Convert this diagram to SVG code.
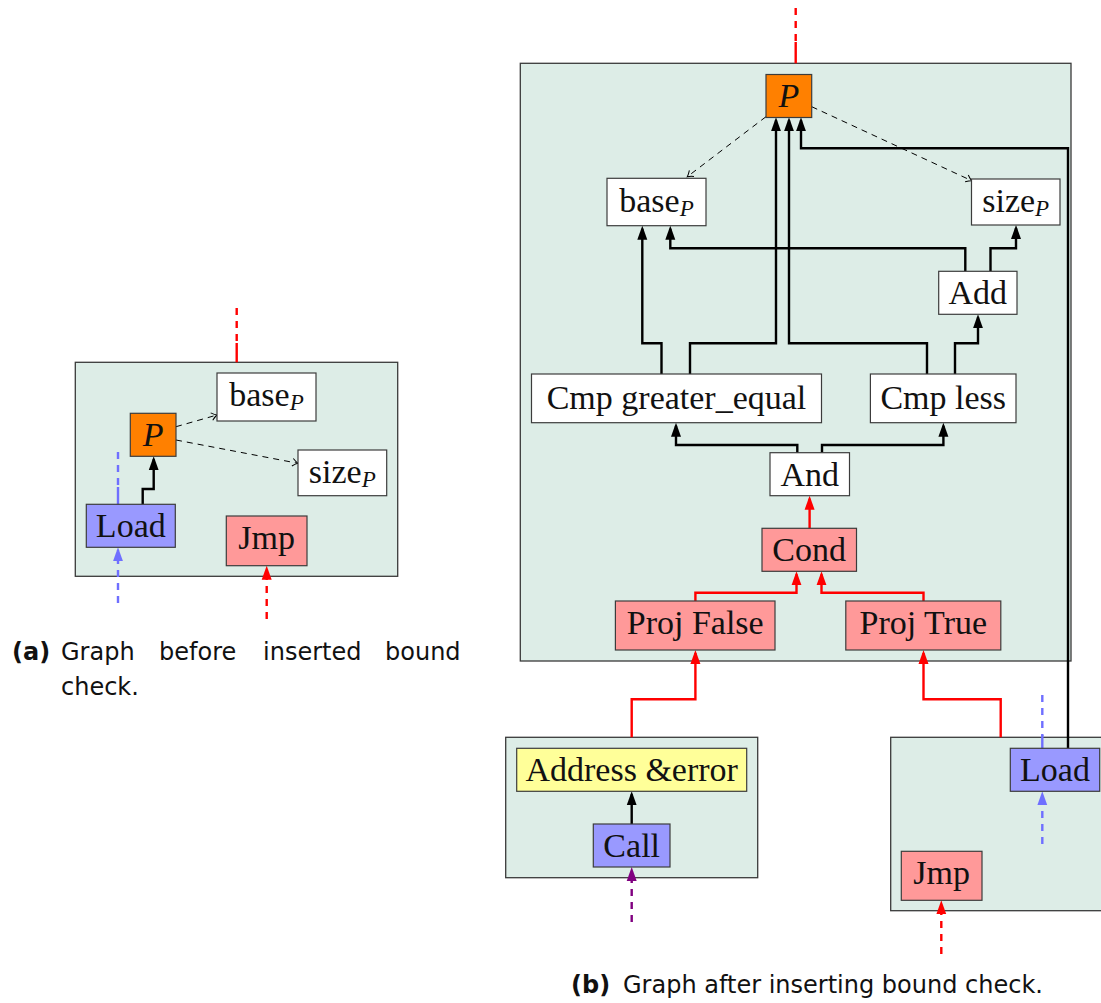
<svg xmlns="http://www.w3.org/2000/svg" width="1101" height="1003" viewBox="0 0 1101 1003">
  <style>
    .blk { fill: #ddede7; stroke: #3a3a3a; stroke-width: 1.3; }
    .nd { stroke: #3c3c3c; stroke-width: 1.2; }
    .w { fill: #ffffff; }
    .org { fill: #ff8000; }
    .blu { fill: #9999ff; }
    .red { fill: #ff9999; }
    .yel { fill: #ffff99; }
    .lbl { font-family: "Liberation Serif", "DejaVu Serif", serif; font-size: 34px; fill: #111; text-anchor: middle; }
    .sub { font-style: italic; font-size: 23px; }
    .it { font-style: italic; }
    .e { fill: none; stroke: #000; stroke-width: 2.4; stroke-linejoin: miter; }
    .er { fill: none; stroke: #ff0000; stroke-width: 2.4; }
    .eb { fill: none; stroke: #6f6fff; stroke-width: 2.4; }
    .ep { fill: none; stroke: #800080; stroke-width: 2.4; }
    .dash { stroke-dasharray: 7 6; }
    .thin { fill: none; stroke: #000; stroke-width: 1; stroke-dasharray: 6 5; }
    .cap { font-family: "DejaVu Sans", "Liberation Sans", sans-serif; font-size: 24px; fill: #111; }
    .capb { font-weight: bold; }
  </style>
  <defs>
    <!-- filled arrow tips; the tip sits 3 units past the path end -->
    <marker id="ah-k" viewBox="0 0 14 11" refX="11" refY="5.5" markerWidth="14" markerHeight="11" markerUnits="userSpaceOnUse" orient="auto">
      <path d="M0,0.5 L14,5.5 L0,10.5 z" fill="#000"/>
    </marker>
    <marker id="ah-r" viewBox="0 0 14 11" refX="11" refY="5.5" markerWidth="14" markerHeight="11" markerUnits="userSpaceOnUse" orient="auto">
      <path d="M0,0.5 L14,5.5 L0,10.5 z" fill="#ff0000"/>
    </marker>
    <marker id="ah-b" viewBox="0 0 14 11" refX="11" refY="5.5" markerWidth="14" markerHeight="11" markerUnits="userSpaceOnUse" orient="auto">
      <path d="M0,0.5 L14,5.5 L0,10.5 z" fill="#6f6fff"/>
    </marker>
    <marker id="ah-p" viewBox="0 0 14 11" refX="11" refY="5.5" markerWidth="14" markerHeight="11" markerUnits="userSpaceOnUse" orient="auto">
      <path d="M0,0.5 L14,5.5 L0,10.5 z" fill="#800080"/>
    </marker>
    <marker id="ah-open" viewBox="-7 -5 9 10" refX="0" refY="0" markerWidth="9" markerHeight="10" markerUnits="userSpaceOnUse" orient="auto">
      <path d="M-5.5,-3.8 Q-2,-0.8 0,0 Q-2,0.8 -5.5,3.8" fill="none" stroke="#000" stroke-width="1"/>
    </marker>
  </defs>

  <rect width="1101" height="1003" fill="#ffffff"/>

  <!-- basic blocks -->
  <g id="blocks">
    <g id="block-a"><rect class="blk" x="75.3" y="362.3" width="322.4" height="214"/></g>
    <g id="block-b-main"><rect class="blk" x="520.3" y="63.3" width="550.7" height="597.7"/></g>
    <g id="block-b-error"><rect class="blk" x="505.7" y="737.3" width="252" height="140.4"/></g>
    <g id="block-b-cont"><rect class="blk" x="890.7" y="737.3" width="220" height="173.4"/></g>
  </g>

  <!-- connectors -->
  <g id="connectors">
    <!-- graph (a) -->
    <path class="er dash" d="M236.7,308 V344"/>
    <path class="er" d="M236.7,343 V362.3"/>
    <path class="eb dash" d="M118,452 V488"/>
    <path class="eb" d="M118,487 V504.3"/>
    <path class="e" d="M142.7,504.3 V489 H153.7 V459.3" marker-end="url(#ah-k)"/>
    <path class="thin" d="M176,426.7 L217,415" marker-end="url(#ah-open)"/>
    <path class="thin" d="M176,440 L298,463.3" marker-end="url(#ah-open)"/>
    <path class="eb dash" d="M118,603 V550.3" marker-end="url(#ah-b)"/>
    <path class="er dash" d="M266.7,619 V568.7" marker-end="url(#ah-r)"/>

    <!-- graph (b) -->
    <path class="er dash" d="M795.7,8 V43"/>
    <path class="er" d="M795.7,42 V63.3"/>
    <path class="thin" d="M766,116.7 L687.3,176.7" marker-end="url(#ah-open)"/>
    <path class="thin" d="M811.7,106.7 L971.7,180.7" marker-end="url(#ah-open)"/>
    <path class="e" d="M661.5,374 V343.3 H642.3 V228.7" marker-end="url(#ah-k)"/>
    <path class="e" d="M690,374 V343.3 H776 V120.3" marker-end="url(#ah-k)"/>
    <path class="e" d="M927,374 V343.3 H789 V120.3" marker-end="url(#ah-k)"/>
    <path class="e" d="M1068,748.3 V148.3 H801 V120.3" marker-end="url(#ah-k)"/>
    <path class="e" d="M965.3,271.3 V248.3 H670.3 V228.7" marker-end="url(#ah-k)"/>
    <path class="e" d="M990.5,271.3 V248.3 H1016 V228" marker-end="url(#ah-k)"/>
    <path class="e" d="M955,374 V343.3 H978 V317.3" marker-end="url(#ah-k)"/>
    <path class="e" d="M797.3,452.7 V445 H676 V425.7" marker-end="url(#ah-k)"/>
    <path class="e" d="M822,452.7 V445 H943.4 V425.7" marker-end="url(#ah-k)"/>
    <path class="er" d="M809.6,528.3 V498.7" marker-end="url(#ah-r)"/>
    <path class="er" d="M695.4,601 V592.7 H796.5 V574.3" marker-end="url(#ah-r)"/>
    <path class="er" d="M923.5,601 V592.7 H821.5 V574.3" marker-end="url(#ah-r)"/>
    <path class="er" d="M631.7,737.3 V699.3 H695.4 V653" marker-end="url(#ah-r)"/>
    <path class="er" d="M1000.7,737.3 V699.3 H923.5 V653" marker-end="url(#ah-r)"/>
    <path class="e" d="M631.7,824 V794.3" marker-end="url(#ah-k)"/>
    <path class="ep dash" d="M631.7,922 V870" marker-end="url(#ah-p)"/>
    <path class="eb dash" d="M1042.3,695 V736"/>
    <path class="eb" d="M1042.3,735 V748.3"/>
    <path class="eb dash" d="M1042.3,844 V794.3" marker-end="url(#ah-b)"/>
    <path class="er dash" d="M941.3,954 V903.3" marker-end="url(#ah-r)"/>
  </g>

  <!-- nodes of graph (a) -->
  <g id="a-base">
    <rect class="nd w" x="217" y="373" width="99" height="48"/>
    <text class="lbl" x="266.5" y="406">base<tspan class="sub" dy="4">P</tspan></text>
  </g>
  <g id="a-p">
    <rect class="nd org" x="130.3" y="413.3" width="45.7" height="43"/>
    <text class="lbl it" x="153.2" y="446">P</text>
  </g>
  <g id="a-size">
    <rect class="nd w" x="298" y="450" width="88.7" height="45.7"/>
    <text class="lbl" x="342.3" y="483">size<tspan class="sub" dy="4">P</tspan></text>
  </g>
  <g id="a-load">
    <rect class="nd blu" x="86.3" y="504.3" width="89" height="43"/>
    <text class="lbl" x="130.8" y="537">Load</text>
  </g>
  <g id="a-jmp">
    <rect class="nd red" x="226.3" y="516" width="80.7" height="49.7"/>
    <text class="lbl" x="266.7" y="549">Jmp</text>
  </g>

  <!-- nodes of graph (b) -->
  <g id="b-p">
    <rect class="nd org" x="766" y="74.5" width="45.7" height="43"/>
    <text class="lbl it" x="788.9" y="107">P</text>
  </g>
  <g id="b-base">
    <rect class="nd w" x="607" y="178.3" width="99" height="47.4"/>
    <text class="lbl" x="656.5" y="211.7">base<tspan class="sub" dy="4">P</tspan></text>
  </g>
  <g id="b-size">
    <rect class="nd w" x="971.5" y="179" width="88.5" height="46"/>
    <text class="lbl" x="1015.7" y="212">size<tspan class="sub" dy="4">P</tspan></text>
  </g>
  <g id="b-add">
    <rect class="nd w" x="938.7" y="271.3" width="78.3" height="43"/>
    <text class="lbl" x="977.8" y="304">Add</text>
  </g>
  <g id="b-cmp-ge">
    <rect class="nd w" x="531.5" y="374" width="290" height="48.7"/>
    <text class="lbl" x="676.5" y="408.5">Cmp greater_equal</text>
  </g>
  <g id="b-cmp-less">
    <rect class="nd w" x="870.4" y="374" width="145.6" height="48.7"/>
    <text class="lbl" x="943.2" y="408.5">Cmp less</text>
  </g>
  <g id="b-and">
    <rect class="nd w" x="770" y="452.7" width="79.5" height="43"/>
    <text class="lbl" x="809.7" y="485.5">And</text>
  </g>
  <g id="b-cond">
    <rect class="nd red" x="762" y="528.3" width="94.5" height="43"/>
    <text class="lbl" x="809.2" y="561">Cond</text>
  </g>
  <g id="b-proj-false">
    <rect class="nd red" x="615.4" y="601" width="159.6" height="49"/>
    <text class="lbl" x="695.2" y="633.5">Proj False</text>
  </g>
  <g id="b-proj-true">
    <rect class="nd red" x="845.8" y="601" width="155" height="49"/>
    <text class="lbl" x="923.3" y="633.5">Proj True</text>
  </g>
  <g id="b-address">
    <rect class="nd yel" x="516.7" y="748.3" width="230" height="43"/>
    <text class="lbl" x="631.7" y="781">Address &amp;error</text>
  </g>
  <g id="b-call">
    <rect class="nd blu" x="593.3" y="824" width="76.7" height="43"/>
    <text class="lbl" x="631.7" y="856.5">Call</text>
  </g>
  <g id="b-load">
    <rect class="nd blu" x="1010.3" y="748.3" width="89.4" height="43"/>
    <text class="lbl" x="1055" y="781">Load</text>
  </g>
  <g id="b-jmp">
    <rect class="nd red" x="901.3" y="851.3" width="80.7" height="49"/>
    <text class="lbl" x="941.6" y="884">Jmp</text>
  </g>

  <!-- captions -->
  <g id="caption-a" class="cap">
    <text x="12" y="660" class="capb">(a)</text>
    <text x="61" y="660">Graph</text>
    <text x="159" y="660">before</text>
    <text x="263" y="660">inserted</text>
    <text x="385" y="660">bound</text>
    <text x="61" y="695">check.</text>
  </g>
  <g id="caption-b" class="cap">
    <text x="571" y="993" class="capb">(b)</text>
    <text x="623" y="993">Graph after inserting bound check.</text>
  </g>
</svg>
